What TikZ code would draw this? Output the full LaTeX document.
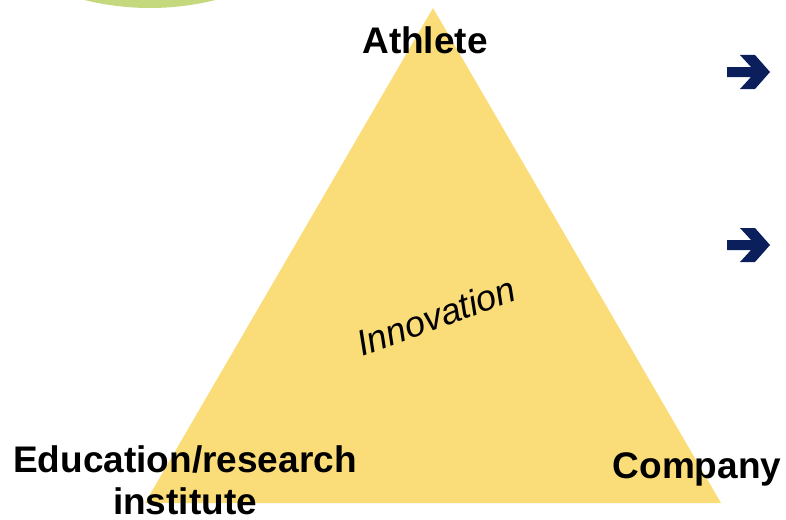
\documentclass[tikz,border=0pt]{standalone}
\usepackage{fontspec}
\setmainfont{Liberation Sans}
\definecolor{triyellow}{HTML}{FADC78}
\definecolor{blobgreen}{HTML}{C4D97E}
\definecolor{arrownavy}{HTML}{0A1F5C}
\tikzset{
  corner/.style={font=\fontsize{37}{42}\selectfont\bfseries, inner sep=0pt, align=center},
  chevron/.style={fill=arrownavy, draw=none}
}
\begin{document}
\begin{tikzpicture}[x=1pt,y=-1pt]
      \useasboundingbox (0,0) rectangle (786,519);
      \begin{scope}
        \clip (0,0) rectangle (786,519);
        \fill[blobgreen] (150,-262) circle (270);
      \end{scope}
      \fill[triyellow] (433,8) -- (721,503) -- (145,503) -- cycle;
      % arrows on the right
      \foreach \y in {72,245} {
        \fill[chevron] (727,\y-5) -- (751,\y-5) -- (740,\y-17) -- (755,\y-17)
          -- (770,\y) -- (755,\y+17) -- (740,\y+17) -- (751,\y+5) -- (727,\y+5) -- cycle;
      }
      \node[corner, anchor=base] (athlete) at (425,53) {Athlete};
      \node[corner, anchor=base] (company) at (697,478) {Company};
      \node[corner, anchor=south] (institute) at (185,515) {Education/research\\institute};
      \node[font=\fontsize{36}{40}\selectfont\itshape, rotate=20, inner sep=0pt] (innov) at (436,316) {Innovation};
    \end{tikzpicture}
\end{document}
